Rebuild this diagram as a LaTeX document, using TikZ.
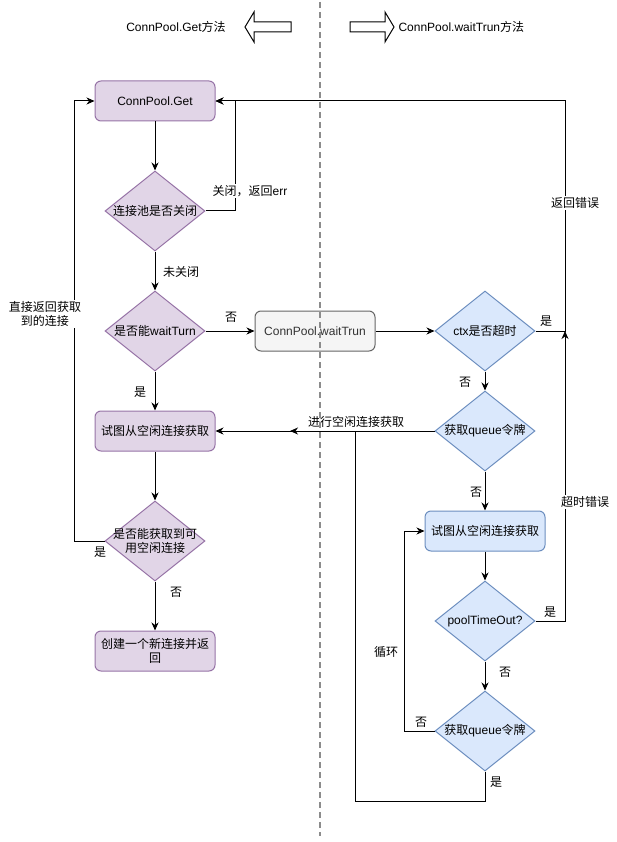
\documentclass[tikz,border=0pt]{standalone}
\usepackage{fontspec}
\setmainfont{Liberation Sans}
\newfontfamily\cjkfont{Noto Sans CJK SC}
\newcommand{\zh}[1]{{\cjkfont #1}}
\usepackage{tikz}
\usetikzlibrary{shapes.geometric,arrows.meta}
\usepackage{xcolor}
\definecolor{lilac}{HTML}{E1D5E7}
\definecolor{lilacline}{HTML}{9673A6}
\definecolor{paleblue}{HTML}{DAE8FC}
\definecolor{paleblueline}{HTML}{6C8EBF}
\definecolor{lightgrey}{HTML}{F5F5F5}
\definecolor{midgrey}{HTML}{666666}
\definecolor{darktext}{HTML}{333333}
\definecolor{splitgrey}{HTML}{8C8C8C}

\begin{document}
\begin{tikzpicture}[
    x=1pt, y=-1pt, line width=1pt,
    font=\fontsize{12}{14}\selectfont,
    proc/.style={rectangle, rounded corners=6pt, minimum width=120pt,
                 minimum height=40pt, inner sep=2pt, align=center},
    pbox/.style={proc, draw=lilacline, fill=lilac},
    bbox/.style={proc, draw=paleblueline, fill=paleblue},
    gbox/.style={proc, draw=midgrey, fill=lightgrey, text=darktext},
    dec/.style={diamond, minimum width=100pt, minimum height=80pt, inner sep=0pt,
                label={[align=center]center:#1}},
    pdec/.style={dec={#1}, draw=lilacline, fill=lilac},
    bdec/.style={dec={#1}, draw=paleblueline, fill=paleblue},
    lbl/.style={fill=white, inner sep=1pt, align=center},
    arr/.style={-{Stealth[length=8pt,width=7pt,inset=2.5pt]}}
]
    \useasboundingbox (0,0) rectangle (616,842);

    % Header
    \node (hget) at (176,27) {ConnPool.Get\zh{方法}};
    \node[anchor=west, inner sep=0pt] (hwait) at (398,27) {ConnPool.waitTrun\zh{方法}};
    \draw (245,27) -- (254,12) -- (254,22) -- (291,22) -- (291,32)
        -- (254,32) -- (254,42) -- cycle;
    \draw (350,22) -- (385,22) -- (385,12) -- (394,27) -- (385,42)
        -- (385,32) -- (350,32) -- cycle;

    % ConnPool.Get
    \node[pbox] (get) at (155,101) {ConnPool.Get};
    \node[pdec={\zh{连接池是否关闭}}] (closed) at (155,211) {};
    \node[pdec={\zh{是否能}waitTurn}] (canwait) at (155,331) {};
    \node[pbox] (try1) at (155,431) {\zh{试图从空闲连接获取}};
    \node[pdec={\zh{是否能获取到可}\\\zh{用空闲连接}}] (gotidle) at (155,541) {};
    \node[pbox] (create) at (155,651) {\zh{创建一个新连接并返}\\\zh{回}};

    % ConnPool.waitTrun
    \node[gbox] (wt) at (315,331) {ConnPool.waitTrun};
    \node[bdec={ctx\zh{是否超时}}] (ctx) at (485,331) {};
    \node[bdec={\zh{获取}queue\zh{令牌}}] (q1) at (485,431) {};
    \node[bbox] (try2) at (485,531) {\zh{试图从空闲连接获取}};
    \node[bdec={poolTimeOut?}] (pto) at (485,621) {};
    \node[bdec={\zh{获取}queue\zh{令牌}}] (q2) at (485,731) {};

    \coordinate (rj) at (565,331);
    \coordinate (lq) at (355,801);
    \coordinate (lp) at (290,431);

    % Connectors, left
    \draw[arr] (get) -- (closed);
    \draw[arr] (closed.east) -- ++(30,0) |- (get.east);
    \draw[arr] (closed) -- (canwait);
    \draw[arr] (canwait) -- (wt);
    \draw[arr] (canwait) -- (try1);
    \draw[arr] (try1) -- (gotidle);
    \draw[arr] (gotidle.west) -- ++(-30,0) |- (get.west);
    \draw[arr] (gotidle) -- (create);

    % Connectors, right
    \draw[arr] (wt) -- (ctx);
    \draw[arr] (ctx.east) -- (rj) |- (get.east);
    \draw[arr] (ctx) -- (q1);
    \draw[arr] (q1) -- (try1);
    \draw[arr] (q1) -- (try2);
    \draw[arr] (try2) -- (pto);
    \draw[arr] (pto.east) -| (rj);
    \draw[arr] (pto) -- (q2);
    \draw[arr] (q2.west) -- ++(-30,0) |- (try2.west);
    \draw[arr] (q2.south) |- (lq) |- (lp);

    % Labels
    \node[lbl] (lclosed) at (250,191) {\zh{关闭，返回}err};
    \node[lbl] (lopen) at (181,272) {\zh{未关闭}};
    \node[lbl] (lno1) at (231,317) {\zh{否}};
    \node[lbl] (lyes1) at (140,392) {\zh{是}};
    \node[lbl] (lreturn) at (45,314) {\zh{直接返回获取}\\\zh{到的连接}};
    \node[lbl] (lyes2) at (100,552) {\zh{是}};
    \node[lbl] (lno2) at (176,592) {\zh{否}};
    \node[lbl] (lyes3) at (546,321) {\zh{是}};
    \node[lbl] (lerr) at (575,203) {\zh{返回错误}};
    \node[lbl] (lno3) at (465,382) {\zh{否}};
    \node[lbl] (lidle) at (356,422) {\zh{进行空闲连接获取}};
    \node[lbl] (lno4) at (476,492) {\zh{否}};
    \node[lbl] (ltimeout) at (585,502) {\zh{超时错误}};
    \node[lbl] (lyes4) at (550,612) {\zh{是}};
    \node[lbl] (lno5) at (505,672) {\zh{否}};
    \node[lbl] (lloop) at (386,652) {\zh{循环}};
    \node[lbl] (lno6) at (421,722) {\zh{否}};
    \node[lbl] (lyes5) at (496,782) {\zh{是}};

    % Split line
    \draw[splitgrey, line width=2pt, dash pattern=on 6pt off 4pt] (320,2) -- (320,836);
\end{tikzpicture}
\end{document}
